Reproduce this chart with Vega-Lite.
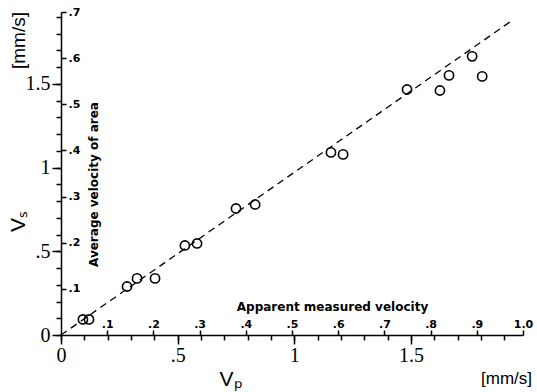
{
  "$schema": "https://vega.github.io/schema/vega-lite/v6.json",
  "width": 462,
  "height": 323,
  "autosize": {"type": "none"},
  "padding": {"left": 61, "top": 12, "right": 14, "bottom": 57},
  "background": "white",
  "config": {
    "view": {"stroke": null},
    "axis": {
      "grid": false,
      "domainColor": "black",
      "tickColor": "black",
      "labelColor": "black",
      "titleColor": "black",
      "labelFlush": false,
      "labelOverlap": false,
      "labelBound": false,
      "titleFontWeight": "normal",
      "domainWidth": 1.5,
      "tickWidth": 1.5,
      "labelFont": "Liberation Sans",
      "titleFont": "Liberation Sans"
    }
  },
  "datasets": {
    "fit": [{"vp": 0, "vs": 0}, {"vp": 1.937, "vs": 1.883}],
    "obs": [
      {"vp": 0.094, "vs": 0.093},
      {"vp": 0.12, "vs": 0.093},
      {"vp": 0.283, "vs": 0.29},
      {"vp": 0.326, "vs": 0.338},
      {"vp": 0.403, "vs": 0.338},
      {"vp": 0.531, "vs": 0.535},
      {"vp": 0.583, "vs": 0.547},
      {"vp": 0.75, "vs": 0.756},
      {"vp": 0.832, "vs": 0.78},
      {"vp": 1.157, "vs": 1.091},
      {"vp": 1.209, "vs": 1.079},
      {"vp": 1.483, "vs": 1.467},
      {"vp": 1.624, "vs": 1.461},
      {"vp": 1.663, "vs": 1.551},
      {"vp": 1.762, "vs": 1.665},
      {"vp": 1.805, "vs": 1.545}
    ],
    "frac": [{"a": 0, "b": 0}, {"a": 1, "b": 0.7}]
  },
  "layer": [
    {
      "data": {"name": "fit"},
      "mark": {"type": "line", "color": "black", "strokeDash": [7, 5], "strokeWidth": 1.3},
      "encoding": {
        "x": {
          "field": "vp", "type": "quantitative",
          "scale": {"domain": [0, 1.98], "nice": false, "zero": false},
          "axis": {
            "orient": "bottom", "values": [0, 0.5, 1, 1.5], "tickSize": 9,
            "labelFontSize": 20, "labelPadding": 1, "labelFont": "Liberation Sans Narrow",
            "labelExpr": "replace(toString(datum.value),'0.','.')",
            "title": "Vₚ", "titleFontSize": 21, "titleX": 169, "titleY": 50,
            "titleBaseline": "alphabetic", "titleAlign": "center", "domain": true
          }
        },
        "y": {
          "field": "vs", "type": "quantitative",
          "scale": {"domain": [0, 1.93], "nice": false, "zero": false},
          "axis": {
            "orient": "left", "values": [0, 0.5, 1, 1.5], "tickSize": 9,
            "labelFontSize": 20, "labelPadding": 2, "labelFont": "Liberation Sans Narrow",
            "labelExpr": "replace(toString(datum.value),'0.','.')",
            "title": "Vₛ", "titleFontSize": 21, "titleX": -43, "titleY": 209,
            "titleAngle": 270, "titleAlign": "center", "titleBaseline": "middle", "domain": true
          }
        }
      }
    },
    {
      "data": {"name": "obs"},
      "mark": {"type": "point", "shape": "circle", "filled": false, "color": "black", "size": 85, "strokeWidth": 1.6, "opacity": 1},
      "encoding": {
        "x": {
          "field": "vp", "type": "quantitative",
          "scale": {"domain": [0, 1.98], "nice": false, "zero": false},
          "axis": {
            "orient": "bottom",
            "values": [0, 0.1, 0.2, 0.3, 0.4, 0.5, 0.6, 0.7, 0.8, 0.9, 1, 1.1, 1.2, 1.3, 1.4, 1.5, 1.6, 1.7, 1.8, 1.9],
            "tickSize": 5, "labels": false, "domain": false,
            "title": "[mm/s]", "titleFontSize": 17, "titleX": 445, "titleY": 48,
            "titleBaseline": "alphabetic", "titleAlign": "center"
          }
        },
        "y": {
          "field": "vs", "type": "quantitative",
          "scale": {"domain": [0, 1.93], "nice": false, "zero": false},
          "axis": {
            "orient": "left",
            "values": [0, 0.1, 0.2, 0.3, 0.4, 0.5, 0.6, 0.7, 0.8, 0.9, 1, 1.1, 1.2, 1.3, 1.4, 1.5, 1.6, 1.7, 1.8, 1.9],
            "tickSize": 5, "labels": false, "domain": false,
            "title": "[mm/s]", "titleFontSize": 19, "titleX": -43, "titleY": 28,
            "titleAngle": 270, "titleAlign": "center", "titleBaseline": "middle"
          }
        }
      }
    },
    {
      "data": {"name": "frac"},
      "mark": {"type": "point", "opacity": 0},
      "encoding": {
        "x": {
          "field": "a", "type": "quantitative",
          "scale": {"domain": [0, 1], "nice": false, "zero": false},
          "axis": {
            "orient": "bottom",
            "values": [0.1, 0.2, 0.3, 0.4, 0.5, 0.6, 0.7, 0.8, 0.9, 1],
            "tickSize": -5, "labelFontSize": 11, "labelFont": "DejaVu Sans", "labelFontWeight": "bold",
            "labelPadding": -1, "labelBaseline": "bottom",
            "labelExpr": "replace(format(datum.value,'.1f'),'0.','.')", "domain": false,
            "title": "Apparent measured velocity", "titleFont": "DejaVu Sans", "titleFontWeight": "bold",
            "titleFontSize": 12, "titleX": 271, "titleY": -25,
            "titleBaseline": "alphabetic", "titleAlign": "center"
          }
        },
        "y": {
          "field": "b", "type": "quantitative",
          "scale": {"domain": [0, 0.7], "nice": false, "zero": false},
          "axis": {
            "orient": "left",
            "values": [0.1, 0.2, 0.3, 0.4, 0.5, 0.6, 0.7],
            "tickSize": -5, "labelFontSize": 11, "labelFont": "DejaVu Sans", "labelFontWeight": "bold",
            "labelPadding": -2, "labelAlign": "left", "labelBaseline": "middle",
            "labelExpr": "replace(format(datum.value,'.1f'),'0.','.')", "domain": false,
            "title": "Average velocity of area", "titleFont": "DejaVu Sans", "titleFontWeight": "bold",
            "titleFontSize": 12, "titleX": 32, "titleY": 172,
            "titleAngle": 270, "titleAlign": "center", "titleBaseline": "middle"
          }
        }
      }
    }
  ],
  "resolve": {
    "scale": {"x": "independent", "y": "independent"},
    "axis": {"x": "independent", "y": "independent"}
  }
}
